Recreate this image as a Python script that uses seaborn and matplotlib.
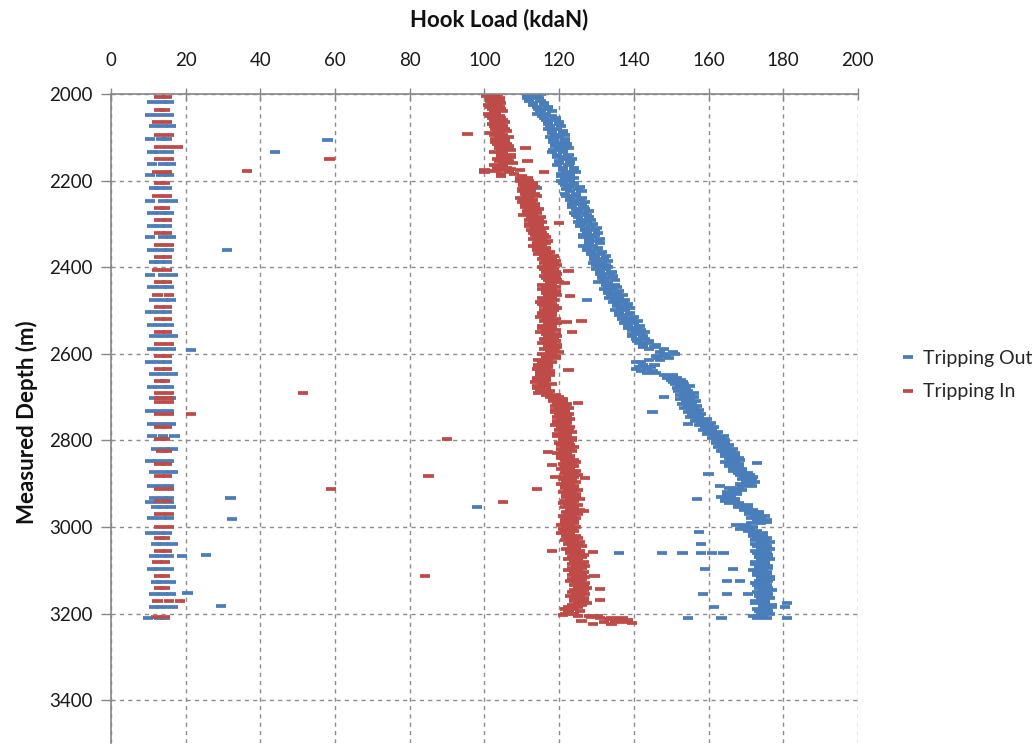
import matplotlib
matplotlib.use("Agg")
import matplotlib.pyplot as plt
import numpy as np
import pandas as pd
import seaborn as sns

# ---------------- data ----------------
series_names = ["Tripping Out", "Tripping In"]
x_ticks = [0, 20, 40, 60, 80, 100, 120, 140, 160, 180, 200]
y_ticks = [2000, 2200, 2400, 2600, 2800, 3000, 3200, 3400]

# main trend readings, two per 5 m (2000 .. 3210 m)
depth_main = list(range(2000, 3215, 5))

out_load = [
    112, 114, 111.5, 115, 113, 116, 114, 117, 115, 116.5,
    118, 116, 119, 117, 120, 117.5, 119.5, 118, 121, 119,
    120, 118.5, 121.5, 119, 122, 120, 118.5, 121, 119.5, 122,
    121, 123, 120, 122.5, 121, 124, 122, 120.5, 123, 121.5,
    123, 121, 124, 122.5, 125, 123, 121.5, 124.5, 123, 125.5,
    124, 126, 123.5, 127, 125, 126.5, 124.5, 128, 126, 127.5,
    126, 128.5, 127, 129.5, 127.5, 126.5, 129, 128, 130.5, 128,
    129, 127.5, 130, 128.5, 131, 129.5, 132, 130, 131.5, 130,
    130.5, 132.5, 131, 133.5, 131.5, 134, 132, 133, 135, 133,
    134.5, 133, 135.5, 134, 136, 135, 137, 135.5, 138, 136.5,
    137.5, 136, 138.5, 137, 139.5, 138, 140, 138.5, 141, 139.5,
    140.5, 142, 139.5, 143, 141, 144, 142.5, 145.5, 144, 147,
    148, 146, 149.5, 144, 142, 145.5, 141.5, 143.5, 142, 146,
    148, 151.5, 150, 153, 151, 152.5, 154, 152, 153.5, 155,
    153.5, 155, 154, 155.5, 154.5, 156, 155, 157, 155.5, 157.5,
    157, 159, 158, 160, 159, 161, 160, 162, 161.5, 163.5,
    162, 164.5, 163, 165, 164, 166, 164.5, 167, 165.5, 166,
    167, 165.5, 168, 166.5, 169, 168, 171, 169.5, 171.5, 170,
    171, 169, 168, 166.5, 167.5, 165, 166, 164.5, 167, 165.5,
    168, 170.5, 172, 171, 173.5, 172.5, 174, 173, 171.5, 170,
    169.5, 171, 173, 172, 174.5, 173, 175, 174, 172.5, 175.5,
    174, 172.5, 175.5, 173.5, 176, 174, 172.5, 175, 173.5, 176,
    174.5, 173, 175.5, 174, 176.5, 173.5, 175, 173, 176, 174.5,
    175.5, 173.5, 176, 174, 172.5, 175, 177, 174.5, 173, 176,
    174, 172, 175.5,
]

out_load_b = [
    115, 111.5, 114.5, 112, 116, 113, 117, 114.5, 118, 114,
    115.5, 119, 116.5, 120, 117, 120.5, 117, 121, 118, 121.5,
    117.5, 121.5, 118.5, 122, 119, 122.5, 121, 118, 122.5, 119.5,
    123.5, 120, 123, 119.5, 124, 121, 124.5, 123, 120.5, 124,
    120.5, 124, 121.5, 125.5, 122, 126, 124.5, 122, 126, 123,
    127, 123.5, 126.5, 124.5, 128, 124, 127.5, 125, 128.5, 125,
    129, 125.5, 130, 127, 130.5, 129.5, 126.5, 131, 128, 131,
    126.5, 130.5, 127.5, 131.5, 128.5, 132.5, 129.5, 133, 129, 132.5,
    133, 130, 134, 131, 134.5, 131.5, 135, 130.5, 132.5, 135.5,
    132, 136, 133, 137, 133.5, 137.5, 134.5, 138.5, 135.5, 139,
    135, 139, 136, 140, 137, 141, 137.5, 141.5, 138.5, 142,
    143, 139.5, 142.5, 140.5, 144, 141.5, 146, 142.5, 148, 150.5,
    151, 148.5, 146.5, 147, 140.5, 142.5, 144.5, 140.5, 145, 143.5,
    150.5, 149, 152.5, 150.5, 153.5, 155, 151.5, 154.5, 156, 152.5,
    156, 152.5, 156.5, 153, 157, 153.5, 157.5, 154.5, 158, 155,
    159.5, 156.5, 160.5, 157.5, 161.5, 158.5, 162.5, 159.5, 164, 161,
    164.5, 162, 165.5, 162.5, 166.5, 163.5, 167, 164.5, 168, 168.5,
    164.5, 168, 165.5, 169, 166.5, 170.5, 168.5, 172, 169, 172.5,
    168.5, 171.5, 165.5, 169, 165, 167.5, 163.5, 167, 164.5, 168,
    170.5, 168, 169.5, 173.5, 171, 175, 171.5, 175.5, 174, 167.5,
    172, 168.5, 170.5, 174.5, 172, 175.5, 172.5, 176.5, 175, 173,
    176.5, 175, 173, 176, 173.5, 176.5, 175, 172.5, 176, 173.5,
    172, 175.5, 173, 176.5, 174, 176, 172.5, 175.5, 173.5, 177,
    173, 176, 173.5, 176.5, 175, 172.5, 174.5, 177, 175.5, 173.5,
    176.5, 174.5, 173,
]

in_load = [
    101, 103, 101.5, 104, 102, 103.5, 101.5, 104.5, 102.5, 103,
    104, 102, 105, 103, 104.5, 102.5, 105.5, 103.5, 104, 102.5,
    104, 105.5, 103, 106, 104, 106.5, 104.5, 105, 107, 104.5,
    106, 104, 107.5, 105, 103.5, 106, 100, 108, 104.5, 111.5,
    112, 110.5, 113, 111, 112.5, 110, 113.5, 111.5, 112, 110.5,
    112.5, 111, 113.5, 112, 114, 111.5, 113, 112.5, 114.5, 113,
    112, 114.5, 113.5, 115, 113, 116, 114, 115.5, 114.5, 116.5,
    115.5, 114, 116.5, 115, 117, 116, 118, 116.5, 118.5, 117,
    118, 116, 119, 117, 118.5, 116.5, 119.5, 117.5, 118, 116.5,
    118, 116.5, 119, 117, 118, 116, 117.5, 115.5, 118.5, 117,
    116, 118, 115.5, 117.5, 116.5, 118.5, 117, 115.5, 118, 116.5,
    117.5, 119, 117, 118.5, 116.5, 118, 119.5, 117, 118.5, 117.5,
    118, 116.5, 119, 117, 115.5, 117, 114.5, 116.5, 115, 117.5,
    115, 116.5, 114, 116, 115.5, 114, 116.5, 115, 117, 119,
    120, 118.5, 121, 119.5, 121.5, 120, 119, 121.5, 120, 122,
    120.5, 122, 119.5, 121.5, 120.5, 122.5, 121, 119.5, 122, 121,
    121, 122.5, 120.5, 121.5, 123, 121, 122, 120.5, 123, 121.5,
    122, 123.5, 121.5, 123, 122, 124, 122.5, 121.5, 123.5, 122,
    123, 121.5, 124, 122.5, 123.5, 122, 124.5, 123, 121.5, 123.5,
    122.5, 124, 123, 124.5, 122.5, 123.5, 122, 124, 121.5, 123,
    122, 123.5, 121.5, 123, 124.5, 122.5, 124, 123, 125, 123.5,
    124.5, 123, 125.5, 124, 123.5, 125, 124, 126, 124.5, 123.5,
    125, 124, 126, 124.5, 123.5, 125.5, 124.5, 126.5, 125, 124,
    126, 124.5, 125.5, 124, 126.5, 125, 123.5, 122.5, 124, 125.5,
    124, 128, 134,
]

in_load_b = [
    103.5, 100.5, 104, 101.5, 104.5, 101, 104, 102, 105, 101,
    101.5, 104.5, 102.5, 105.5, 102, 105, 103, 106, 101.5, 105,
    106.5, 103, 105.5, 103.5, 106.5, 104, 107, 102.5, 104.5, 107,
    103.5, 106.5, 105, 102.5, 106, 103.5, 106.5, 104.5, 110, 109.5,
    109.5, 113, 110.5, 113.5, 110, 112.5, 111, 114, 109.5, 113,
    110, 113.5, 111, 114.5, 111.5, 114, 110.5, 115, 112, 115.5,
    114.5, 112, 116, 112.5, 115.5, 113.5, 116.5, 113, 117, 114,
    113, 116.5, 114, 117.5, 114.5, 118.5, 115.5, 119, 116, 119.5,
    115.5, 118.5, 116.5, 119.5, 116, 119, 117, 120, 115.5, 119,
    115.5, 119, 116.5, 119.5, 115.5, 118.5, 115, 118, 116, 119.5,
    118.5, 115.5, 118, 115, 119, 116, 119.5, 118, 115.5, 119,
    115, 116.5, 119.5, 116, 119, 115.5, 117, 119.5, 116, 120,
    115.5, 119, 116.5, 114.5, 118, 114.5, 117, 114, 117.5, 115,
    117.5, 114, 116.5, 113.5, 118, 116.5, 114, 117.5, 114.5, 116.5,
    117.5, 121, 118.5, 122, 119, 122.5, 121.5, 119, 122.5, 119.5,
    123, 119.5, 122, 119, 123, 120, 123.5, 122, 119.5, 123.5,
    123.5, 120, 123, 124, 120.5, 123.5, 119.5, 123, 120.5, 124,
    124.5, 121, 124, 120.5, 124.5, 121.5, 125, 124, 121, 124.5,
    120.5, 124, 121.5, 125, 121, 124.5, 122, 125.5, 124, 121,
    125, 121.5, 125.5, 122, 125, 121, 124.5, 121.5, 124, 120.5,
    124.5, 121, 124, 120.5, 122, 125, 121.5, 125.5, 122.5, 126,
    122, 125.5, 123, 126.5, 126, 122.5, 126.5, 123.5, 127, 126,
    122.5, 126.5, 123.5, 127, 126, 123, 127, 124, 127.5, 126.5,
    123.5, 127, 123, 126.5, 124, 127.5, 126, 125, 121.5, 122.5,
    121.5, 130.5, 137,
]

# in-slips readings (string hanging in slips), Tripping Out
out_slip_depth = [2018, 2048, 2075, 2104, 2133, 2162, 2188, 2217, 2246, 2275, 2304,
                  2331, 2360, 2388, 2418, 2445, 2475, 2504, 2533, 2560, 2589, 2618,
                  2647, 2676, 2703, 2732, 2763, 2789, 2819, 2847, 2874, 2906, 2932,
                  2943, 2955, 2980, 3013, 3040, 3067, 3096, 3127, 3155, 3184, 3211]
out_slip_lo = [11, 10.5, 11.5, 10.5, 11, 11, 10.5, 11.5, 10.5, 11, 11,
               10.5, 11, 11.5, 10.5, 11, 11.5, 10.5, 11, 11.5, 11, 10.5,
               11.5, 11, 11.5, 10.5, 11, 11, 12, 10.5, 11.5, 11, 11.5,
               10.5, 12, 11, 10.5, 12, 11.5, 11, 12, 11.5, 11.5, 10]
out_slip_mid = [13.5, 13, 14, 13.5, 13, 14, 13.5, 13, 14, 13.5, 13,
                14, 13.5, 13, 14, 13.5, 14, 13, 13.5, 14, 13.5, 13,
                14, 13.5, 14, 13, 13.5, 14, 14.5, 13, 14, 13.5, 14,
                13, 14, 13.5, 13, 14, 13.5, 13, 13.5, 14, 13.5, 13]
out_slip_hi = [15.5, 15.5, 16, 15, 15.5, 16, 15.5, 15, 16.5, 15.5, 15,
               16, 15.5, 15, 16.5, 15.5, 16, 15, 15.5, 16.5, 16, 15,
               16.5, 15.5, 16, 15.5, 16, 17, 16.5, 15.5, 16.5, 15.5, 15.5,
               15.5, 16, 15.5, 15, 16.5, 15.5, 15.5, 16, 16, 16.5, 14.5]

# in-slips readings, Tripping In
in_slip_depth = [2008, 2037, 2065, 2094, 2122, 2151, 2179, 2206, 2235, 2263, 2292,
                 2320, 2349, 2377, 2406, 2435, 2464, 2492, 2520, 2549, 2578, 2606,
                 2634, 2663, 2691, 2703, 2711, 2740, 2768, 2797, 2825, 2854, 2883,
                 2912, 2940, 2970, 2999, 3026, 3055, 3082, 3113, 3141, 3170, 3209]
in_slip_a = [13, 13, 12.5, 13, 13, 13, 12.5, 13, 12.5, 13, 13,
             13, 13, 13, 12.5, 13, 12.5, 13, 13, 13, 13, 13,
             13, 13, 13, 13, 13, 13, 13, 13, 13.5, 13, 13,
             13, 13, 13, 13, 13, 13, 12.5, 13, 13, 12.5, 12]
in_slip_b = [15, 14.5, 15, 15.5, 15.5, 15.5, 15, 14.5, 15, 14.5, 15,
             15, 15.5, 15, 15, 15, 15.5, 15, 15, 15, 15.5, 15,
             15, 14.5, 15.5, 15.5, 15.5, 15.5, 15, 14.5, 15, 15, 15,
             15.5, 15, 15.5, 15.5, 14.5, 15, 14.5, 14.5, 14.5, 15.5, 14.5]

# scattered single readings
out_extra_depth = [2106, 2133, 2360, 2591, 2933, 2982, 3065, 3067, 3153, 3183,
                   2217, 2476, 2955, 2700, 2735, 2762, 2935, 2878, 2906, 2853,
                   2989, 3012, 3039, 3061, 3061, 3061, 3061, 3061, 3061, 3097,
                   3097, 3125, 3125, 3155, 3155, 3155, 3185, 3185, 3211, 3211,
                   3211, 3176]
out_extra_load = [58, 44, 31, 21.5, 32, 32.5, 25.5, 19, 20.5, 29.5,
                  114, 127.5, 98, 148, 145, 154.5, 157, 160, 163, 173,
                  175.5, 157.5, 158, 136, 147.5, 153, 158, 161, 164, 159,
                  166.5, 165, 168.5, 158.5, 165, 170.5, 161.5, 180.5, 154.5, 163.5,
                  181, 181]

in_extra_depth = [2122, 2150, 2178, 2690, 2740, 2797, 2882, 2912, 3113, 2092,
                  2125, 2155, 2180, 2175, 2177, 2173, 2176, 2298, 2409, 2436,
                  2466, 2527, 2524, 2550, 2638, 2714, 2827, 2857, 2885, 2887,
                  2913, 2942, 2963, 3056, 3058, 3113, 3143, 3169, 3170,
                  3203, 3205, 3207, 3210, 3212, 3213, 3215, 3217, 3219, 3220,
                  3221, 3223, 3224, 3218]
in_extra_load = [18, 58.5, 36.5, 51.5, 21.5, 90, 85, 59, 84, 95.5,
                 111, 111.5, 116, 100, 103, 107, 109.5, 120, 122.5, 121.5,
                 123, 122, 126, 123.5, 122.5, 125, 117, 118, 119, 127,
                 114, 105, 126.5, 118, 129, 129.5, 131, 131, 18.5,
                 121, 125, 128.5, 131, 133.5, 136, 138.5, 135, 132, 137,
                 139.5, 134, 129, 126]

# ---------------- assemble ----------------
rows = []
for d, a, b in zip(depth_main, out_load, out_load_b):
    rows += [(series_names[0], d, a), (series_names[0], d, b)]
for d, a, b, c in zip(out_slip_depth, out_slip_lo, out_slip_mid, out_slip_hi):
    rows += [(series_names[0], d, a), (series_names[0], d, b), (series_names[0], d, c)]
for d, v in zip(out_extra_depth, out_extra_load):
    rows.append((series_names[0], d, v))
for d, a, b in zip(depth_main, in_load, in_load_b):
    rows += [(series_names[1], d, a), (series_names[1], d, b)]
for d, a, b in zip(in_slip_depth, in_slip_a, in_slip_b):
    rows += [(series_names[1], d, a), (series_names[1], d, b)]
for d, v in zip(in_extra_depth, in_extra_load):
    rows.append((series_names[1], d, v))
df = pd.DataFrame(rows, columns=["series", "depth", "load"])

# ---------------- plot ----------------
sns.set_theme(style="white")
plt.rcParams["font.family"] = ["Lato", "DejaVu Sans"]

blue = "#4A7EBB"
red = "#BE4B48"
grey = "#868686"

fig = plt.figure(figsize=(10.36, 7.45), dpi=100)
ax = fig.add_axes([0.1071, 0.0021, 0.7210, 0.8717])

sns.scatterplot(data=df, x="load", y="depth", hue="series", hue_order=series_names,
                palette=[blue, red], marker="_", s=55, linewidth=2.7, ax=ax)

ax.set_xlim(0, 200)
ax.set_ylim(3500, 2000)
ax.set_xticks(x_ticks)
ax.set_yticks(y_ticks)
ax.xaxis.tick_top()
ax.xaxis.set_label_position("top")

ax.grid(True, linestyle=(0, (3, 3)), color="#8c8c8c", linewidth=1)
ax.set_axisbelow(True)
for s in ["right", "bottom"]:
    ax.spines[s].set_visible(False)
for s in ["left", "top"]:
    ax.spines[s].set_color(grey)
    ax.spines[s].set_linewidth(1.2)

ax.tick_params(axis="x", direction="inout", length=8, width=1, color=grey,
               pad=14, labelsize=13.5, labelcolor="#1a1a1a")
ax.tick_params(axis="y", direction="out", length=7, width=1, color=grey,
               pad=6, labelsize=13.5, labelcolor="#1a1a1a", left=True)

ax.set_xlabel("Hook Load (kdaN)", fontweight="bold", fontsize=16, color="#111111",
              va="center", ha="center")
ax.xaxis.set_label_coords(0.519, 1.114)
ax.set_ylabel("Measured Depth (m)", fontweight="bold", fontsize=16, color="#111111",
              va="center", ha="center")
ax.yaxis.set_label_coords(-0.112, 0.494)

sns.move_legend(ax, "center left", bbox_to_anchor=(1.033, 0.567), frameon=False,
                title=None, fontsize=14, labelspacing=0.85, handlelength=0.8,
                handletextpad=0.4, markerscale=1.0)

fig.savefig("out.png", dpi=100)
